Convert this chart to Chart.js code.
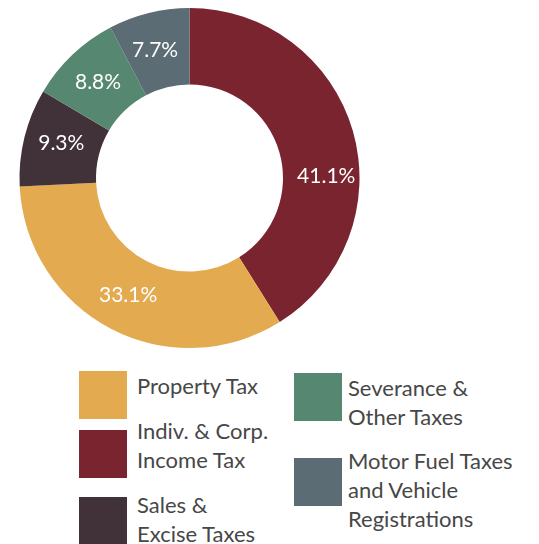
<!DOCTYPE html>
<html>
<head>
<meta charset="utf-8">
<script src="https://cdn.jsdelivr.net/npm/chart.js@4/dist/chart.umd.min.js"></script>
<style>
  html, body { margin: 0; padding: 0; background: #fff; }
  #wrap { position: relative; width: 539px; height: 544px; overflow: hidden; }
  #pie { position: absolute; left: 0; top: 0; }
  .sw { position: absolute; width: 48px; height: 48px; }
  .lt { position: absolute; font-family: Lato, "Open Sans", sans-serif; font-size: 22px;
        line-height: 29px; color: #474747; white-space: nowrap; }
</style>
</head>
<body>
<div id="wrap">
  <canvas id="pie" width="379" height="356"></canvas>
</div>
<script>
// slices, clockwise from 12 o'clock
const categories = ["Indiv. & Corp.\nIncome Tax", "Property Tax", "Sales &\nExcise Taxes",
                    "Severance &\nOther Taxes", "Motor Fuel Taxes\nand Vehicle\nRegistrations"];
const shares = [41.1, 33.1, 9.3, 8.8, 7.7];
const colours = ["#7a2430", "#e3aa50", "#413239", "#568770", "#5b6c75"];

// legend placement (index into categories), swatch top / text top
const legendSlots = [
  {i: 1, sx: 79,  sy: 371, tx: 137, ty: 371},
  {i: 0, sx: 79,  sy: 430, tx: 137, ty: 416},
  {i: 2, sx: 79,  sy: 497, tx: 137, ty: 490},
  {i: 3, sx: 294, sy: 373, tx: 348, ty: 373},
  {i: 4, sx: 294, sy: 458, tx: 348, ty: 446}
];

const wrap = document.getElementById("wrap");
legendSlots.forEach(s => {
  const sw = document.createElement("div");
  sw.className = "sw";
  sw.style.left = s.sx + "px";
  sw.style.top = s.sy + "px";
  sw.style.background = colours[s.i];
  wrap.appendChild(sw);
  const t = document.createElement("div");
  t.className = "lt";
  t.style.left = s.tx + "px";
  t.style.top = s.ty + "px";
  t.innerHTML = categories[s.i].split("\n").join("<br>");
  wrap.appendChild(t);
});

// the big slice label sits a bit lower than its mid angle
const labelNudge = [0.27, 0, 0.02, 0, -0.02];
const labelPush = [4, 0, 0, 0, 0];

const sliceLabels = {
  id: "sliceLabels",
  afterDatasetsDraw(chart) {
    const ctx = chart.ctx;
    const meta = chart.getDatasetMeta(0);
    ctx.save();
    ctx.fillStyle = "#ffffff";
    ctx.font = "21px Lato, 'Open Sans', sans-serif";
    ctx.textAlign = "center";
    ctx.textBaseline = "middle";
    meta.data.forEach((arc, i) => {
      const p = arc.getProps(["x", "y", "startAngle", "endAngle", "innerRadius", "outerRadius"], true);
      const a = (p.startAngle + p.endAngle) / 2 + labelNudge[i];
      const r = (p.innerRadius + p.outerRadius) / 2 + 1 + labelPush[i];
      ctx.fillText(shares[i].toFixed(1) + "%", p.x + Math.cos(a) * r, p.y + Math.sin(a) * r);
    });
    ctx.restore();
  }
};

new Chart(document.getElementById("pie"), {
  type: "doughnut",
  data: {
    labels: categories,
    datasets: [{
      data: shares,
      backgroundColor: colours,
      borderWidth: 0
    }]
  },
  options: {
    responsive: false,
    animation: false,
    cutout: "55%",
    layout: { padding: 8 },
    plugins: {
      legend: { display: false },
      tooltip: { enabled: false }
    }
  },
  plugins: [sliceLabels]
});
</script>
</body>
</html>
